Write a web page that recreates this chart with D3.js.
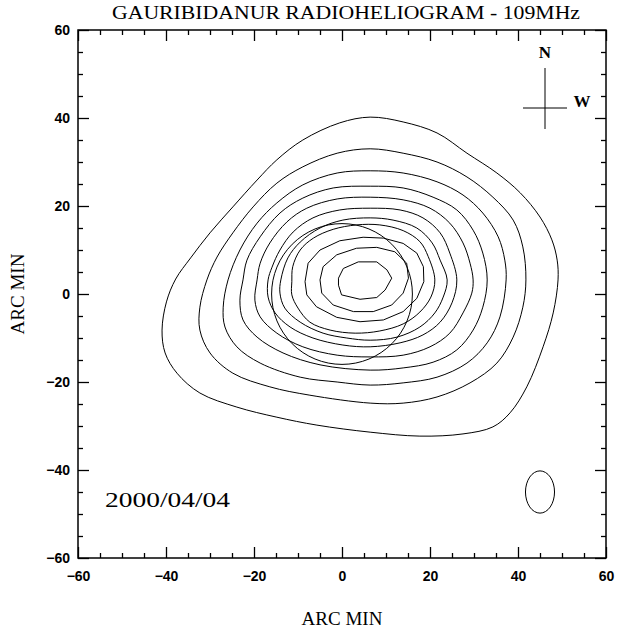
<!DOCTYPE html>
<html>
<head>
<meta charset="utf-8">
<script src="https://cdn.jsdelivr.net/npm/d3@7"></script>
<style>
  body { margin: 0; background: #fff; }
  svg { display: block; }
</style>
</head>
<body>
<svg id="chart" width="620" height="632"></svg>
<script>
// contour levels, outermost first, points in arc min [x, y]
var contour1 = [[6.4,40.2],[13.9,39.1],[21.6,36.6],[28.4,32.0],[35.2,27.5],[40.5,23.0],[45.0,17.5],[47.7,12.3],[48.9,7.7],[49.1,3.2],[48.0,-4.3],[45.7,-12.0],[42.0,-21.1],[38.2,-27.0],[34.3,-30.2],[27.5,-31.8],[17.7,-32.3],[6.4,-31.4],[-5.7,-29.8],[-14.8,-28.0],[-23.9,-25.7],[-32.3,-22.5],[-37.5,-18.0],[-40.2,-13.4],[-40.9,-8.2],[-39.9,-1.8],[-37.8,3.4],[-34.4,8.2],[-30.0,13.9],[-24.8,19.8],[-19.3,25.9],[-14.8,30.5],[-8.9,35.0],[-0.5,38.9]];
var contour2 = [[6.4,33.0],[13.9,32.0],[21.6,30.0],[28.4,26.6],[34.3,22.0],[38.9,16.8],[41.1,10.7],[41.8,3.2],[41.1,-3.0],[38.9,-9.8],[35.2,-15.7],[29.1,-20.2],[21.6,-23.4],[13.9,-24.8],[6.4,-24.8],[-7.3,-23.0],[-16.4,-21.1],[-24.8,-18.0],[-30.0,-13.4],[-32.3,-8.2],[-32.3,-3.0],[-30.7,3.2],[-28.4,8.4],[-24.8,13.9],[-20.2,19.8],[-14.8,25.2],[-8.9,28.9],[-1.1,32.0]];
var contour3 = [[6.4,28.0],[13.9,27.5],[21.6,25.5],[27.5,22.5],[32.0,18.4],[35.5,13.0],[37.0,7.7],[37.3,3.2],[35.9,-5.2],[33.0,-11.1],[28.4,-15.7],[21.6,-18.9],[13.9,-20.2],[6.4,-20.7],[-1.1,-20.0],[-9.5,-18.9],[-18.6,-15.7],[-23.9,-12.0],[-26.6,-7.5],[-27.0,-3.0],[-25.9,3.2],[-23.2,10.0],[-19.3,16.1],[-14.8,20.7],[-8.9,24.8],[-1.1,27.5]];
var contour4 = [[6.4,24.5],[13.9,24.1],[20.7,22.0],[26.1,19.1],[29.8,14.5],[32.0,9.3],[33.0,3.2],[32.0,-3.0],[29.8,-8.2],[26.1,-12.7],[20.7,-15.5],[13.9,-16.8],[6.4,-17.3],[-5.0,-16.1],[-13.4,-13.4],[-19.3,-9.8],[-22.5,-5.9],[-23.2,-1.4],[-22.5,3.2],[-21.6,7.7],[-18.6,13.0],[-14.1,18.4],[-8.9,21.8],[-2.0,24.1]];
var contour5 = [[6.4,22.0],[13.9,21.4],[20.0,19.5],[24.5,16.1],[27.5,11.6],[29.1,7.0],[29.8,3.2],[29.5,0.2],[27.5,-4.3],[24.5,-8.9],[20.0,-12.0],[13.9,-13.9],[6.4,-14.3],[-1.1,-13.9],[-8.9,-12.0],[-14.8,-8.9],[-18.6,-5.2],[-19.8,-1.4],[-19.3,3.2],[-18.6,7.0],[-16.4,11.6],[-12.5,16.4],[-8.0,19.5],[-1.1,21.6]];
var contour6 = [[6.4,19.5],[13.2,19.1],[18.4,17.3],[22.3,13.9],[24.5,9.3],[26.1,3.2],[25.0,-2.0],[22.3,-6.4],[18.4,-9.3],[13.2,-11.1],[6.4,-12.0],[0.2,-11.6],[-6.6,-10.0],[-11.8,-7.5],[-15.2,-4.3],[-16.8,-0.7],[-16.8,3.2],[-15.9,6.1],[-14.1,10.0],[-11.1,14.1],[-6.6,17.3],[-0.5,19.1]];
var contour7 = [[6.4,17.3],[11.6,16.8],[17.0,15.0],[20.5,11.6],[22.3,7.7],[23.9,3.2],[23.0,-0.7],[21.1,-4.3],[17.7,-7.5],[12.5,-9.8],[6.4,-10.5],[1.1,-10.0],[-4.3,-8.9],[-9.5,-6.4],[-13.0,-3.2],[-14.1,0.2],[-13.9,3.2],[-12.3,8.2],[-9.5,11.8],[-5.0,15.0],[0.2,16.8]];
var contour8 = [[3.3,15.7],[8.6,15.7],[13.9,14.4],[17.7,11.9],[19.6,8.5],[21.1,3.2],[20.2,-0.7],[17.7,-4.1],[13.9,-6.8],[8.6,-8.4],[3.0,-8.9],[-2.7,-8.2],[-7.3,-6.4],[-10.0,-3.2],[-11.4,-0.2],[-11.4,2.8],[-11.2,6.2],[-9.5,10.0],[-6.5,12.7],[-2.0,14.7]];
var contour9 = [[-8.4,2.8],[-7.7,7.0],[-5.0,10.0],[-0.5,12.1],[4.8,12.9],[9.4,12.7],[13.9,11.5],[17.0,9.3],[18.5,6.2],[18.6,2.8],[17.0,-1.0],[13.9,-4.0],[9.4,-5.9],[4.1,-6.3],[-1.2,-5.3],[-5.8,-2.9],[-8.0,-0.2]];
var contour10 = [[-5.0,3.2],[-4.3,6.2],[-1.2,8.9],[3.3,10.4],[7.9,10.6],[12.0,9.6],[14.7,7.0],[15.1,3.6],[13.9,0.2],[11.3,-2.5],[7.1,-4.0],[2.6,-4.0],[-2.0,-2.5],[-4.6,0.2]];
var contour11 = [[-0.8,3.6],[0.3,5.8],[3.7,7.3],[7.9,7.3],[10.2,5.5],[11.3,3.6],[9.8,0.9],[7.9,-0.8],[4.1,-1.2],[-0.1,-0.2],[-0.8,2.0]];

var smoothContours = [contour1, contour2, contour3, contour4, contour5, contour6, contour7, contour8];
var coarseContours = [contour9, contour10, contour11];

var sunRadius = 16;             // arc min, solar disc at origin
var beam = [45, -45, 3.3, 4.8]; // cx, cy, semi-axis x, semi-axis y

var majorTicks = [-60, -40, -20, 0, 20, 40, 60];
var minorTicks = d3.range(-60, 61, 5).filter(v => v % 20 !== 0);

var titleText = "GAURIBIDANUR RADIOHELIOGRAM - 109MHz";
var dateText = "2000/04/04";
var axisTitle = "ARC MIN";

(function() {
  var svg = d3.select("#chart");
  var pL = 78, pR = 606, pT = 30, pB = 558;

  var x = d3.scaleLinear().domain([-60, 60]).range([pL, pR]);
  var y = d3.scaleLinear().domain([-60, 60]).range([pB, pT]);

  var serif = "'Liberation Serif', 'DejaVu Serif', serif";
  var sans = "'Liberation Sans', Arial, sans-serif";

  // contours
  var smoothLine = d3.line().x(d => x(d[0])).y(d => y(d[1])).curve(d3.curveCatmullRomClosed.alpha(0.5));
  var coarseLine = d3.line().x(d => x(d[0])).y(d => y(d[1])).curve(d3.curveLinearClosed);

  svg.append("g").selectAll("path").data(smoothContours)
    .enter().append("path")
    .attr("d", smoothLine)
    .attr("fill", "none").attr("stroke", "#000").attr("stroke-width", 1);

  svg.append("g").selectAll("path").data(coarseContours)
    .enter().append("path")
    .attr("d", coarseLine)
    .attr("fill", "none").attr("stroke", "#000").attr("stroke-width", 1);

  // solar disc
  svg.append("ellipse")
    .attr("cx", x(0)).attr("cy", y(0))
    .attr("rx", x(sunRadius) - x(0)).attr("ry", y(0) - y(sunRadius))
    .attr("fill", "none").attr("stroke", "#000").attr("stroke-width", 1);

  // beam
  svg.append("ellipse")
    .attr("cx", x(beam[0])).attr("cy", y(beam[1]))
    .attr("rx", x(beam[2]) - x(0)).attr("ry", y(0) - y(beam[3]))
    .attr("fill", "none").attr("stroke", "#000").attr("stroke-width", 1);

  // axes, ticks pointing inward
  function styleAxis(g, labels) {
    g.select(".domain").remove();
    g.selectAll("line").attr("stroke", "#000").attr("stroke-width", 1.3);
    g.selectAll("text").attr("font-family", sans).attr("font-weight", "bold")
      .attr("font-size", 14).attr("fill", "#000");
    if (!labels) g.selectAll("text").remove();
  }

  var fmt = d => d < 0 ? "\u2212" + Math.abs(d) : String(d);

  svg.append("g").attr("transform", "translate(0," + pB + ")")
    .call(d3.axisBottom(x).tickValues(majorTicks).tickSize(-11).tickPadding(13).tickFormat(fmt))
    .call(g => styleAxis(g, true));
  svg.append("g").attr("transform", "translate(0," + pB + ")")
    .call(d3.axisBottom(x).tickValues(minorTicks).tickSize(-5))
    .call(g => styleAxis(g, false));
  svg.append("g").attr("transform", "translate(0," + pT + ")")
    .call(d3.axisTop(x).tickValues(majorTicks).tickSize(-11))
    .call(g => styleAxis(g, false));
  svg.append("g").attr("transform", "translate(0," + pT + ")")
    .call(d3.axisTop(x).tickValues(minorTicks).tickSize(-5))
    .call(g => styleAxis(g, false));

  svg.append("g").attr("transform", "translate(" + pL + ",0)")
    .call(d3.axisLeft(y).tickValues(majorTicks).tickSize(-11).tickPadding(8).tickFormat(fmt))
    .call(g => styleAxis(g, true));
  svg.append("g").attr("transform", "translate(" + pL + ",0)")
    .call(d3.axisLeft(y).tickValues(minorTicks).tickSize(-5))
    .call(g => styleAxis(g, false));
  svg.append("g").attr("transform", "translate(" + pR + ",0)")
    .call(d3.axisRight(y).tickValues(majorTicks).tickSize(-11))
    .call(g => styleAxis(g, false));
  svg.append("g").attr("transform", "translate(" + pR + ",0)")
    .call(d3.axisRight(y).tickValues(minorTicks).tickSize(-5))
    .call(g => styleAxis(g, false));

  svg.append("rect")
    .attr("x", pL).attr("y", pT)
    .attr("width", pR - pL).attr("height", pB - pT)
    .attr("fill", "none").attr("stroke", "#000").attr("stroke-width", 1.5);

  // texts
  svg.append("text")
    .attr("x", 346).attr("y", 19)
    .attr("text-anchor", "middle")
    .attr("font-family", serif).attr("font-size", 18)
    .attr("textLength", 468).attr("lengthAdjust", "spacingAndGlyphs")
    .text(titleText);

  svg.append("text")
    .attr("x", (pL + pR) / 2).attr("y", 625)
    .attr("text-anchor", "middle")
    .attr("font-family", serif).attr("font-size", 19)
    .text(axisTitle);

  svg.append("text")
    .attr("transform", "translate(24," + (pT + pB) / 2 + ") rotate(-90)")
    .attr("text-anchor", "middle")
    .attr("font-family", serif).attr("font-size", 19)
    .text(axisTitle);

  svg.append("text")
    .attr("x", 105).attr("y", 507)
    .attr("font-family", serif).attr("font-size", 21)
    .attr("textLength", 125).attr("lengthAdjust", "spacingAndGlyphs")
    .text(dateText);

  // compass
  var cx = 545, cy = 108;
  svg.append("line").attr("x1", cx).attr("x2", cx).attr("y1", cy - 40).attr("y2", cy + 21)
    .attr("stroke", "#000").attr("stroke-width", 1);
  svg.append("line").attr("x1", cx - 22).attr("x2", cx + 22).attr("y1", cy).attr("y2", cy)
    .attr("stroke", "#000").attr("stroke-width", 1);
  svg.append("text").attr("x", cx).attr("y", 58).attr("text-anchor", "middle")
    .attr("font-family", serif).attr("font-weight", "bold").attr("font-size", 17).text("N");
  svg.append("text").attr("x", 582).attr("y", 107).attr("text-anchor", "middle")
    .attr("font-family", serif).attr("font-weight", "bold").attr("font-size", 17).text("W");
})();
</script>
</body>
</html>
